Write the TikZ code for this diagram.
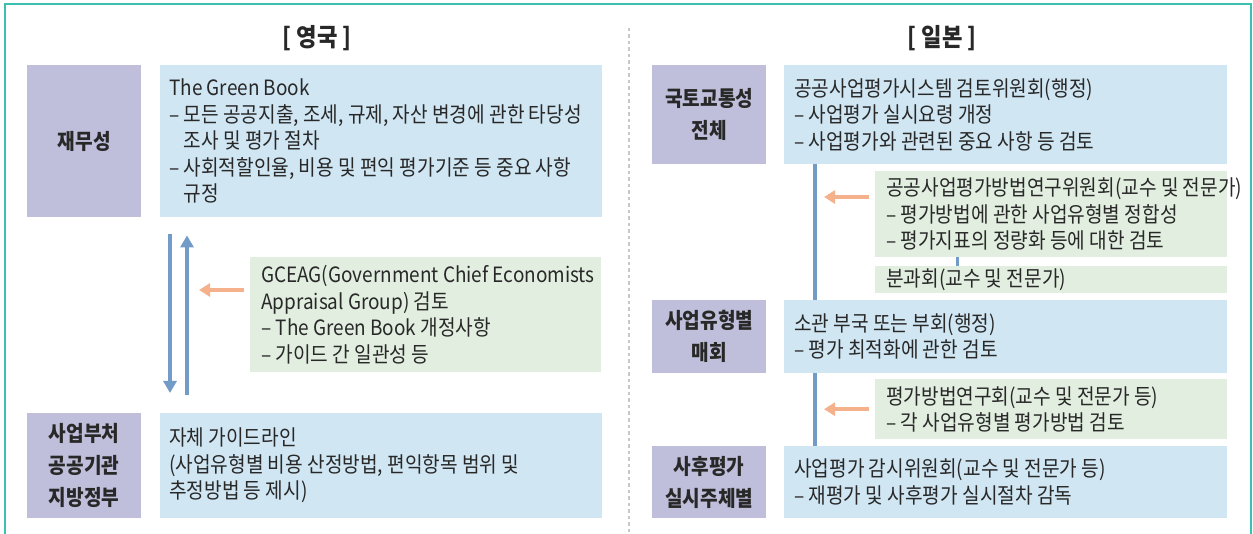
\documentclass[tikz,border=0pt]{standalone}
\usepackage{fontspec}
\setmainfont{Noto Sans CJK KR}[FakeStretch=0.89]
\newfontfamily\enfont{Noto Sans CJK KR}[Scale=0.98, FakeStretch=0.9]
\usetikzlibrary{arrows.meta}

\definecolor{ink}{RGB}{40,40,40}
\definecolor{lblbg}{RGB}{191,191,219}
\definecolor{bodybg}{RGB}{208,230,243}
\definecolor{notebg}{RGB}{226,239,224}
\definecolor{flowblue}{RGB}{115,155,200}
\definecolor{notearrow}{RGB}{244,177,140}
\definecolor{frameteal}{RGB}{60,192,176}
\definecolor{divgray}{RGB}{200,200,200}

% latin runs are set a bit narrower than the hangul
\newcommand{\en}[1]{{\enfont #1}}
\newcommand{\ind}{\phantom{– }}

\begin{document}
\begin{tikzpicture}[x=1pt, y=-1pt,
		title/.style={text=ink, font=\fontsize{25}{28}\selectfont\bfseries},
		lbl/.style={anchor=north west, fill=lblbg, inner sep=0pt, align=center, text=ink, minimum width=114pt, font=\fontsize{21.5}{32}\selectfont\bfseries},
		panel/.style={anchor=north west, fill=#1, inner sep=0pt},
		lines/.style={anchor=west, align=left, inner sep=0pt, text=ink, font=\fontsize{21.5}{26.5}\selectfont},
		flow/.style={draw=flowblue, line width=4pt, -{Triangle[width=13pt,length=12pt]}},
		note/.style={draw=notearrow, line width=4pt, -{Triangle[width=13pt,length=11pt]}},
		link/.style={draw=flowblue, line width=4pt}]
	\useasboundingbox (0,0) rectangle (1253,534);
	\draw[frameteal, line width=2pt] (5,534) -- (5,4) -- (1251,4) -- (1251,534);
	\draw[divgray, line width=1.5pt, dash pattern=on 3.5pt off 3pt] (629,28) -- (629,534);

	% left half
	\node[title] (uk) at (317,38) {[ 영국 ]};
	\node[lbl, minimum height=152pt] (mof) at (27,65) {재무성};
	\node[panel=bodybg, minimum width=442pt, minimum height=152pt] (gb) at (160,65) {};
	\node[lines] (gbtext) at ([xshift=9pt]gb.west) {\en{The Green Book}\\– 모든 공공지출, 조세, 규제, 자산 변경에 관한 타당성\\\ind 조사 및 평가 절차\\– 사회적할인율, 비용 및 편익 평가기준 등 중요 사항\\\ind 규정};
	\node[panel=notebg, minimum width=351pt, minimum height=115pt] (gceag) at (250,257) {};
	\node[lines] (gceagtext) at ([xshift=11pt]gceag.west) {\en{GCEAG(Government Chief Economists}\\\en{Appraisal Group)} 검토\\– \en{The Green Book} 개정사항\\– 가이드 간 일관성 등};
	\node[lbl, minimum height=105pt] (line) at (27,413) {사업부처\\공공기관\\지방정부};
	\node[panel=bodybg, minimum width=442pt, minimum height=105pt] (own) at (160,413) {};
	\node[lines] (owntext) at ([xshift=9pt]own.west) {자체 가이드라인\\(사업유형별 비용 산정방법, 편익항목 범위 및\\추정방법 등 제시)};

	\draw[flow] ([xshift=10pt,yshift=-17pt]gb.south west) -- ([xshift=10pt,yshift=20pt]own.north west);
	\draw[flow] ([xshift=27pt,yshift=18pt]own.north west) -- ([xshift=27pt,yshift=-18pt]gb.south west);
	\draw[note] ([xshift=-6pt,yshift=-33pt]gceag.north west) -- ([xshift=-51pt,yshift=-33pt]gceag.north west);

	% right half
	\node[title] (jp) at (942,38) {[ 일본 ]};
	\node[lbl, minimum height=99pt] (mlit) at (652,65) {국토교통성\\전체};
	\node[panel=bodybg, minimum width=443pt, minimum height=99pt] (psec) at (784,65) {};
	\node[lines] (psectext) at ([xshift=10pt]psec.west) {공공사업평가시스템 검토위원회(행정)\\– 사업평가 실시요령 개정\\– 사업평가와 관련된 중요 사항 등 검토};
	\node[panel=notebg, minimum width=352pt, minimum height=86pt] (meth) at (875,171) {};
	\node[lines] (methtext) at ([xshift=11pt]meth.west) {공공사업평가방법연구위원회(교수 및 전문가)\\– 평가방법에 관한 사업유형별 정합성\\– 평가지표의 정량화 등에 대한 검토};
	\node[panel=notebg, minimum width=352pt, minimum height=27pt] (sub) at (875,266) {};
	\node[lines] (subtext) at ([xshift=11pt]sub.west) {분과회(교수 및 전문가)};
	\node[lbl, minimum height=73pt] (type) at (652,300) {사업유형별\\매회};
	\node[panel=bodybg, minimum width=443pt, minimum height=73pt] (dept) at (784,300) {};
	\node[lines] (depttext) at ([xshift=10pt]dept.west) {소관 부국 또는 부회(행정)\\– 평가 최적화에 관한 검토};
	\node[panel=notebg, minimum width=352pt, minimum height=60pt] (grp) at (875,379) {};
	\node[lines] (grptext) at ([xshift=11pt]grp.west) {평가방법연구회(교수 및 전문가 등)\\– 각 사업유형별 평가방법 검토};
	\node[lbl, minimum height=72pt] (post) at (652,446) {사후평가\\실시주체별};
	\node[panel=bodybg, minimum width=443pt, minimum height=72pt] (audit) at (784,446) {};
	\node[lines] (audittext) at ([xshift=10pt]audit.west) {사업평가 감시위원회(교수 및 전문가 등)\\– 재평가 및 사후평가 실시절차 감독};

	\draw[link] ([xshift=31pt]psec.south west) -- ([xshift=31pt]dept.north west);
	\draw[link] ([xshift=31pt]dept.south west) -- ([xshift=31pt]audit.north west);
	\draw[link, line width=3pt] ([xshift=82pt]meth.south west) -- ([xshift=82pt]sub.north west);
	\draw[note] ([xshift=-6pt,yshift=-26pt]meth.north west) -- ([xshift=-51pt,yshift=-26pt]meth.north west);
	\draw[note] ([xshift=-6pt]grp.west) -- ([xshift=-51pt]grp.west);
\end{tikzpicture}
\end{document}
